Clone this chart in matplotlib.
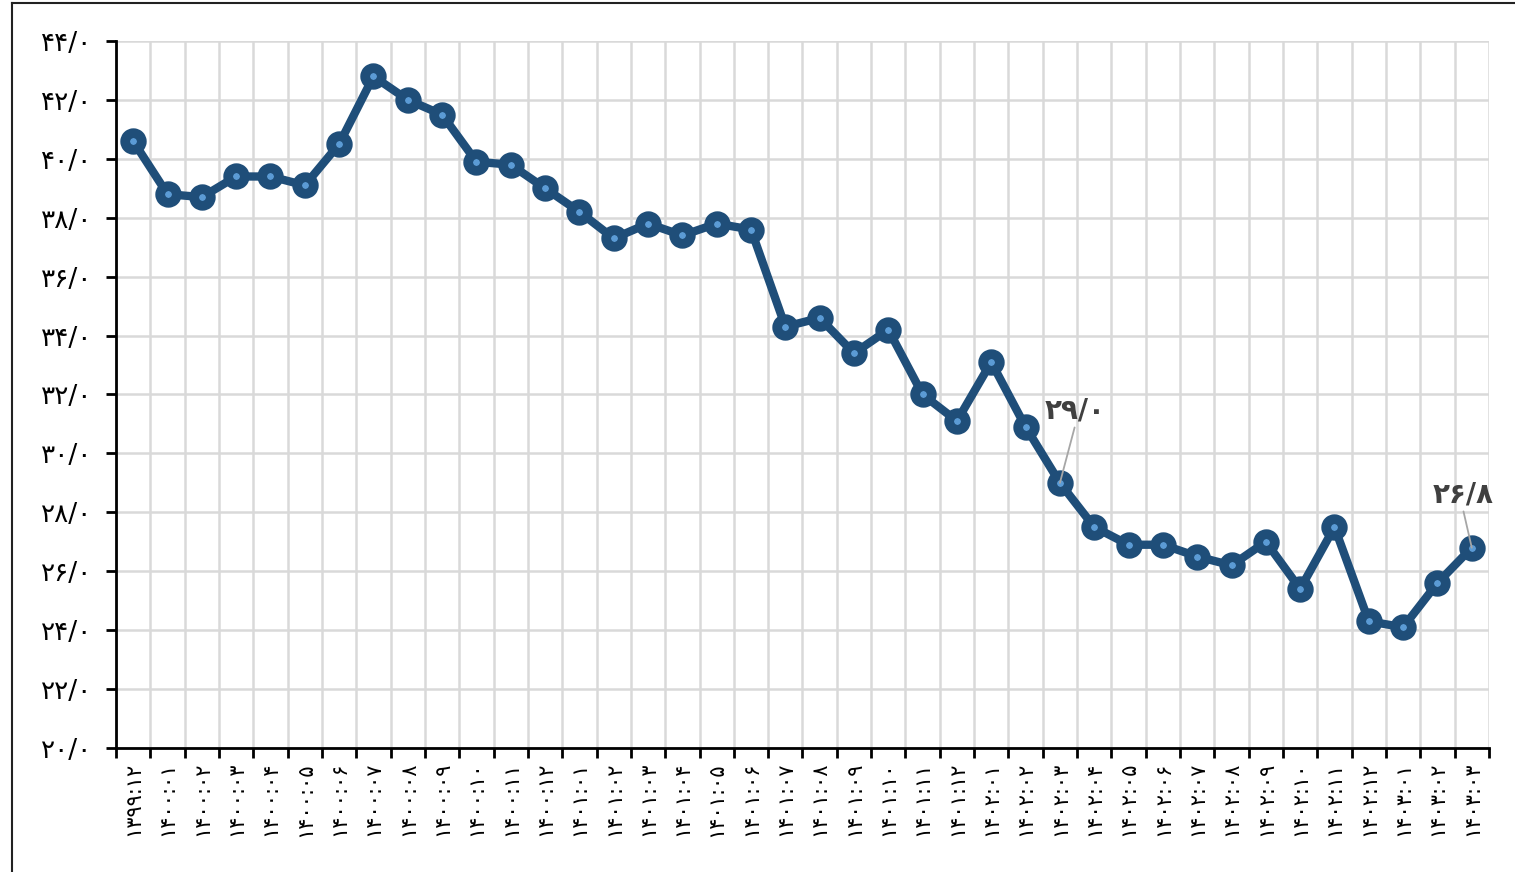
import matplotlib.pyplot as plt
from matplotlib.lines import Line2D
from matplotlib.ticker import FixedLocator

fa = str.maketrans('0123456789', '۰۱۲۳۴۵۶۷۸۹')

months = ['1399:12',
          '1400:01', '1400:02', '1400:03', '1400:04', '1400:05', '1400:06',
          '1400:07', '1400:08', '1400:09', '1400:10', '1400:11', '1400:12',
          '1401:01', '1401:02', '1401:03', '1401:04', '1401:05', '1401:06',
          '1401:07', '1401:08', '1401:09', '1401:10', '1401:11', '1401:12',
          '1402:01', '1402:02', '1402:03', '1402:04', '1402:05', '1402:06',
          '1402:07', '1402:08', '1402:09', '1402:10', '1402:11', '1402:12',
          '1403:01', '1403:02', '1403:03']
values = [40.6, 38.8, 38.7, 39.4, 39.4, 39.1, 40.5, 42.8, 42.0, 41.5,
          39.9, 39.8, 39.0, 38.2, 37.3, 37.8, 37.4, 37.8, 37.6, 34.3,
          34.6, 33.4, 34.2, 32.0, 31.1, 33.1, 30.9, 29.0, 27.5, 26.9,
          26.9, 26.5, 26.2, 27.0, 25.4, 27.5, 24.3, 24.1, 25.6, 26.8]
labelled = [27, 39]
label_offsets = [(0.45, 2.45), (-0.26, 1.8)]

plt.rcParams['font.family'] = ['DejaVu Sans']

fig = plt.figure(figsize=(15.15, 8.72), dpi=100)
ax = fig.add_axes([0.0766, 0.1422, 0.9062, 0.8108])

x = list(range(len(values)))
ax.plot(x, values, color='#1F4E79', lw=6, marker='o', markersize=12,
        markerfacecolor='#5B9BD5', markeredgecolor='#1F4E79', markeredgewidth=7,
        zorder=3)

for i, (dx, dy) in zip(labelled, label_offsets):
    txt = f'{values[i]:.1f}'.replace('.', '/').translate(fa)
    ax.annotate(txt, xy=(i, values[i]), xytext=(i + dx, values[i] + dy),
                ha='center', va='center', fontsize=20, color='#404040',
                fontweight='bold',
                arrowprops=dict(arrowstyle='-', color='#A6A6A6', lw=1.3,
                                shrinkA=0, shrinkB=0, relpos=(0.5, 0)),
                zorder=4, annotation_clip=False)

ax.set_xlim(-0.5, len(values) - 0.5)
ax.set_ylim(20, 44)

ax.set_yticks(range(20, 45, 2))
ax.set_yticklabels([f'{v}/0'.translate(fa) for v in range(20, 45, 2)], fontsize=19)

ax.set_xticks(x)
ax.set_xticklabels([m.translate(fa) for m in months], rotation=90, fontsize=15)
ax.xaxis.set_minor_locator(FixedLocator([i - 0.5 for i in range(len(values) + 1)]))
ax.tick_params(axis='x', which='major', length=0, pad=10)
ax.tick_params(axis='x', which='minor', length=7, width=2, direction='out')
ax.tick_params(axis='y', length=7, width=2, direction='out', pad=10)

ax.grid(axis='y', which='major', color='#D9D9D9', lw=1.8)
ax.grid(axis='x', which='minor', color='#D9D9D9', lw=1.8)
ax.set_axisbelow(True)

for s in ['top', 'right']:
    ax.spines[s].set_visible(False)
for s in ['left', 'bottom']:
    ax.spines[s].set_linewidth(2)
    ax.spines[s].set_color('black')

# frame lines at the edge of the picture
fig.add_artist(Line2D([12 / 1515, 12 / 1515], [0, 1 - 3 / 872], color='#222222', lw=1.5))
fig.add_artist(Line2D([12 / 1515, 1], [1 - 3 / 872, 1 - 3 / 872], color='#222222', lw=1.5))

fig.savefig('out.png', dpi=100)
